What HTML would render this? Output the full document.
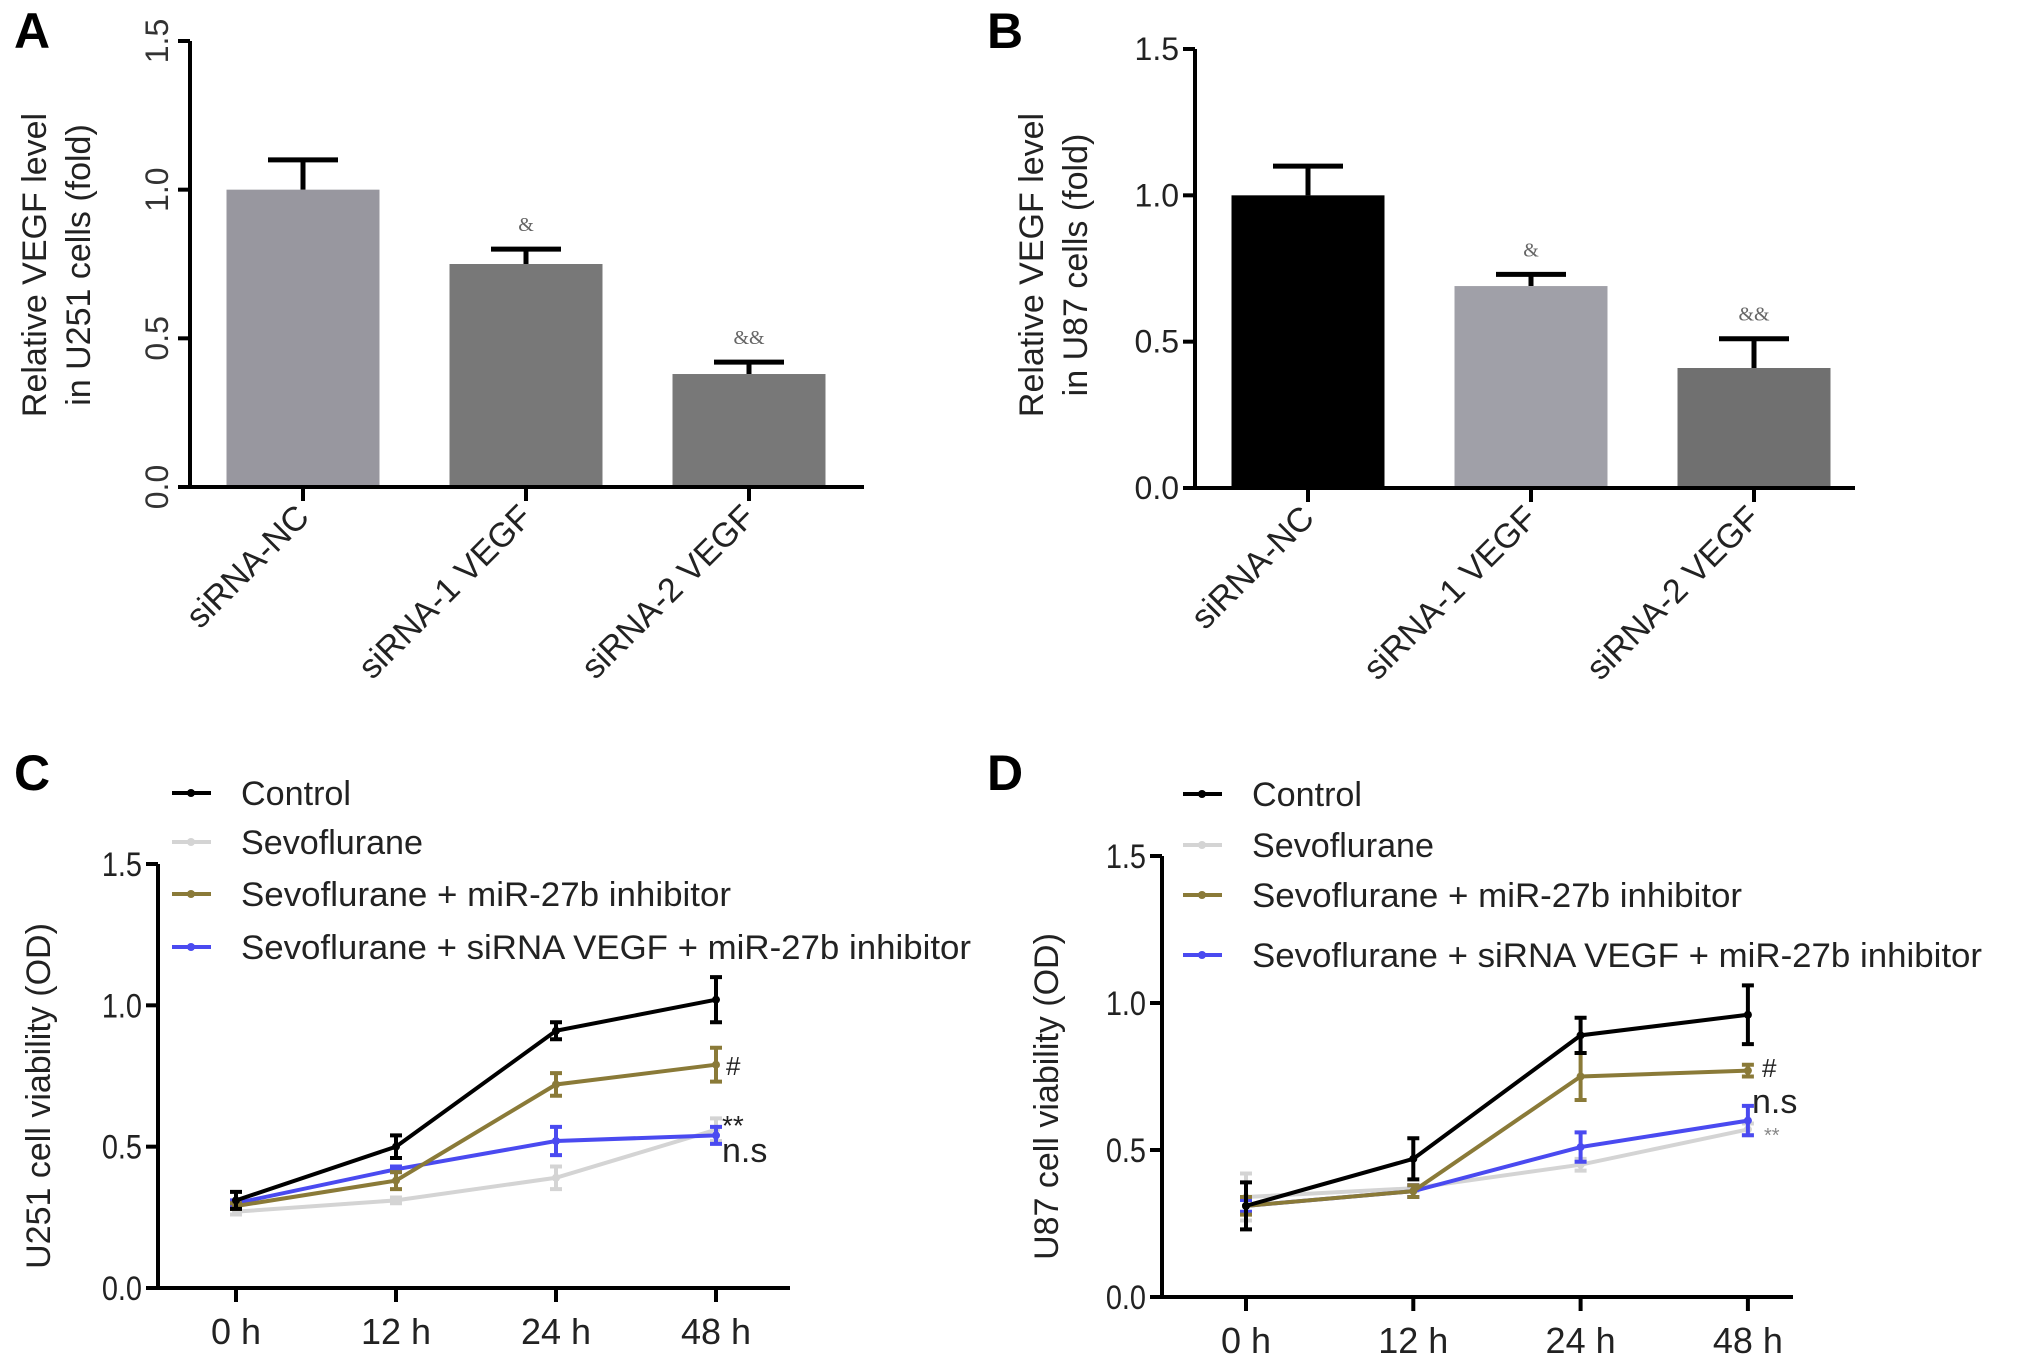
<!DOCTYPE html>
<html><head><meta charset="utf-8"><style>
html,body{margin:0;padding:0;background:#fff}
svg{display:block;font-family:"Liberation Sans",Arial,sans-serif}
</style></head><body>
<svg id="fig" width="2031" height="1367" viewBox="0 0 2031 1367" xmlns="http://www.w3.org/2000/svg"></svg>
<script>
// Panel A data
const catsA = ["siRNA-NC","siRNA-1 VEGF","siRNA-2 VEGF"];
const valsA = [1.0, 0.75, 0.38];
const errA = [0.10, 0.05, 0.04];
const annA = ["", "&", "&&"];
const colA = ["#98979f","#787878","#787878"];
// Panel B data
const catsB = ["siRNA-NC","siRNA-1 VEGF","siRNA-2 VEGF"];
const valsB = [1.0, 0.69, 0.41];
const errB = [0.10, 0.04, 0.10];
const annB = ["", "&", "&&"];
const colB = ["#000000","#a0a0a8","#707070"];
const yTicks = [0.0, 0.5, 1.0, 1.5];
const yTickLabels = ["0.0","0.5","1.0","1.5"];
// Panel C/D
const times = ["0 h","12 h","24 h","48 h"];
const seriesNames = ["Control","Sevoflurane","Sevoflurane + miR-27b inhibitor","Sevoflurane + siRNA VEGF + miR-27b inhibitor"];
const seriesColors = ["#000000","#d4d4d4","#8a7a38","#4a4af0"];
const cControl = [0.31,0.50,0.91,1.02];
const cSevo = [0.27,0.31,0.39,0.56];
const cInhib = [0.29,0.38,0.72,0.79];
const cSi = [0.30,0.42,0.52,0.54];
const cErrControl=[0.03,0.04,0.03,0.08];
const cErrSevo=[0.01,0.01,0.04,0.04];
const cErrInhib=[0.01,0.03,0.04,0.06];
const cErrSi=[0.01,0.01,0.05,0.03];
const dControl = [0.31,0.47,0.89,0.96];
const dSevo = [0.34,0.37,0.45,0.57];
const dInhib = [0.31,0.36,0.75,0.77];
const dSi = [0.31,0.36,0.51,0.60];
const dErrControl=[0.08,0.07,0.06,0.10];
const dErrSevo=[0.08,0.01,0.02,0.02];
const dErrInhib=[0.03,0.02,0.08,0.02];
const dErrSi=[0.02,0.02,0.05,0.05];

const NS="http://www.w3.org/2000/svg";
const svg=document.getElementById('fig');
function el(tag,attrs,parent,text){const e=document.createElementNS(NS,tag);for(const k in attrs)e.setAttribute(k,attrs[k]);if(text!==undefined)e.textContent=text;(parent||svg).appendChild(e);return e;}

function letter(t,x,y){const e=el('text',{x:x,y:y,'font-size':50,'font-weight':'bold','text-anchor':'middle'},svg,t);

}
letter('A',32,48);letter('B',1005,48);letter('C',32,790);letter('D',1005,790);

function barPanel(id,cats,vals,errs,anns,cols,ax,title1,title2,rotTicks){
  const g=el('g',{});
  
  
  const y=v=>ax.y0+(ax.y1-ax.y0)*(v/1.5);
  const bw=153, step=223;
  const cx=i=>ax.x0+113+i*step;
  cats.forEach((c,i)=>{
    const r=el('rect',{x:cx(i)-bw/2,y:y(vals[i]),width:bw,height:y(0)-y(vals[i]),fill:cols[i]},g);
    
    
    const eb=el('path',{d:`M${cx(i)} ${y(vals[i])}V${y(vals[i]+errs[i])}M${cx(i)-35} ${y(vals[i]+errs[i])}H${cx(i)+35}`,stroke:'#000','stroke-width':5,fill:'none'},g);
    
    
    if(anns[i]){const a=el('text',{x:cx(i),y:y(vals[i]+errs[i])-18,'font-size':20,'text-anchor':'middle',fill:'#666','font-family':'Liberation Serif,serif'},g,anns[i]);
      
      }
    el('line',{x1:cx(i),x2:cx(i),y1:y(0),y2:y(0)+14,stroke:'#000','stroke-width':4},g);
    const t=el('text',{transform:`translate(${cx(i)+8},${y(0)+32}) rotate(-45)`,'font-size':34,'text-anchor':'end',fill:'#222'},g,c);
    
    
  });
  el('line',{x1:ax.x0,x2:ax.x0,y1:ax.y1,y2:y(0)+2,stroke:'#000','stroke-width':4},g);
  el('line',{x1:ax.x0-12,x2:ax.x2,y1:y(0),y2:y(0),stroke:'#000','stroke-width':4},g);
  yTicks.forEach((v,i)=>{
    el('line',{x1:ax.x0-12,x2:ax.x0,y1:y(v),y2:y(v),stroke:'#000','stroke-width':4},g);
    let t;
    if(rotTicks) t=el('text',{transform:`translate(${ax.x0-22},${y(v)}) rotate(-90)`,'font-size':32,'text-anchor':'middle',fill:'#333'},g,yTickLabels[i]);
    else t=el('text',{x:ax.x0-16,y:y(v)+11,'font-size':32,'text-anchor':'end',fill:'#222'},g,yTickLabels[i]);
    
    
  });
  const tt=el('text',{transform:`translate(${ax.tx},265) rotate(-90)`,'font-size':34,'text-anchor':'middle',fill:'#222'},g);
  
  
  el('tspan',{x:0,dy:0},tt,title1);el('tspan',{x:0,dy:44},tt,title2);
}
barPanel('a',catsA,valsA,errA,annA,colA,{x0:190,x2:864,y0:487,y1:41,tx:46},'Relative VEGF level','in U251 cells (fold)',true);
barPanel('b',catsB,valsB,errB,annB,colB,{x0:1195,x2:1855,y0:488,y1:49,tx:1043},'Relative VEGF level','in U87 cells (fold)',false);

function linePanel(id,series,errs,ax,xt,legY,legX,title,anns){
  const g=el('g',{});
  
  
  const y=v=>ax.y0+(ax.y1-ax.y0)*(v/1.5);
  const x=i=>xt[0]+(xt[1]-xt[0])*i;
  el('line',{x1:ax.x0,x2:ax.x0,y1:ax.y1,y2:y(0)+2,stroke:'#000','stroke-width':4},g);
  el('line',{x1:ax.x0-12,x2:ax.x2,y1:y(0),y2:y(0),stroke:'#000','stroke-width':4},g);
  yTicks.forEach((v,i)=>{
    el('line',{x1:ax.x0-12,x2:ax.x0,y1:y(v),y2:y(v),stroke:'#000','stroke-width':4},g);
    const t=el('text',{x:ax.x0-16,y:y(v)+12,'font-size':34,'text-anchor':'end',fill:'#222',transform:`translate(${ax.x0-16},0) scale(0.85,1) translate(${-(ax.x0-16)},0)`},g,yTickLabels[i]);
    
    
  });
  times.forEach((tl,i)=>{
    el('line',{x1:x(i),x2:x(i),y1:y(0),y2:y(0)+14,stroke:'#000','stroke-width':4},g);
    const t=el('text',{x:x(i),y:y(0)+56,'font-size':36,'text-anchor':'middle',fill:'#222'},g,tl);
    
    
  });
  const tt=el('text',{transform:`translate(${ax.tx},${(ax.y1+y(0))/2+20}) rotate(-90)`,'font-size':34,'text-anchor':'middle',fill:'#222'},g,title);
  
  
  [1,3,2,0].forEach(s=>{
    const vals=series[s];
    const p=el('polyline',{points:vals.map((v,i)=>x(i)+','+y(v)).join(' '),fill:'none',stroke:seriesColors[s],'stroke-width':4},g);
    
    
    vals.forEach((v,i)=>{
      const e=errs[s][i];
      el('path',{d:`M${x(i)} ${y(v-e)}V${y(v+e)}M${x(i)-6} ${y(v-e)}H${x(i)+6}M${x(i)-6} ${y(v+e)}H${x(i)+6}`,stroke:seriesColors[s],'stroke-width':4,fill:'none'},g);
      el('circle',{cx:x(i),cy:y(v),r:4,fill:seriesColors[s]},g);
    });
  });
  seriesNames.forEach((n,s)=>{
    const lg=el('g',{},g);
    
    
    el('line',{x1:legX,x2:legX+39,y1:legY[s],y2:legY[s],stroke:seriesColors[s],'stroke-width':4},lg);
    el('circle',{cx:legX+19,cy:legY[s],r:4,fill:seriesColors[s]},lg);
    const len=[110,182,490,730][s];
    el('text',{x:legX+69,y:legY[s]+12,'font-size':34,fill:'#222',textLength:len,lengthAdjust:'spacingAndGlyphs'},lg,n);
  });
  anns.forEach(a=>{
    const t=el('text',{x:a[1],y:a[2],'font-size':a[3],fill:a[4]},g,a[0]);
    
    
  });
}
linePanel('c',[cControl,cSevo,cInhib,cSi],[cErrControl,cErrSevo,cErrInhib,cErrSi],
  {x0:158,x2:790,y0:1288,y1:864,tx:50},[236,396],[793,842,894,947],172,'U251 cell viability (OD)',
  [['#',726,1075,26,'#222'],['**',722,1135,28,'#222'],['n.s',722,1162,34,'#222']]);
linePanel('d',[dControl,dSevo,dInhib,dSi],[dErrControl,dErrSevo,dErrInhib,dErrSi],
  {x0:1162,x2:1793,y0:1297,y1:856,tx:1058},[1246,1413.3],[794,845,895,955],1183,'U87 cell viability (OD)',
  [['#',1762,1077,26,'#222'],['n.s',1752,1113,34,'#222'],['**',1764,1142,20,'#888']]);
</script>
</body></html>
